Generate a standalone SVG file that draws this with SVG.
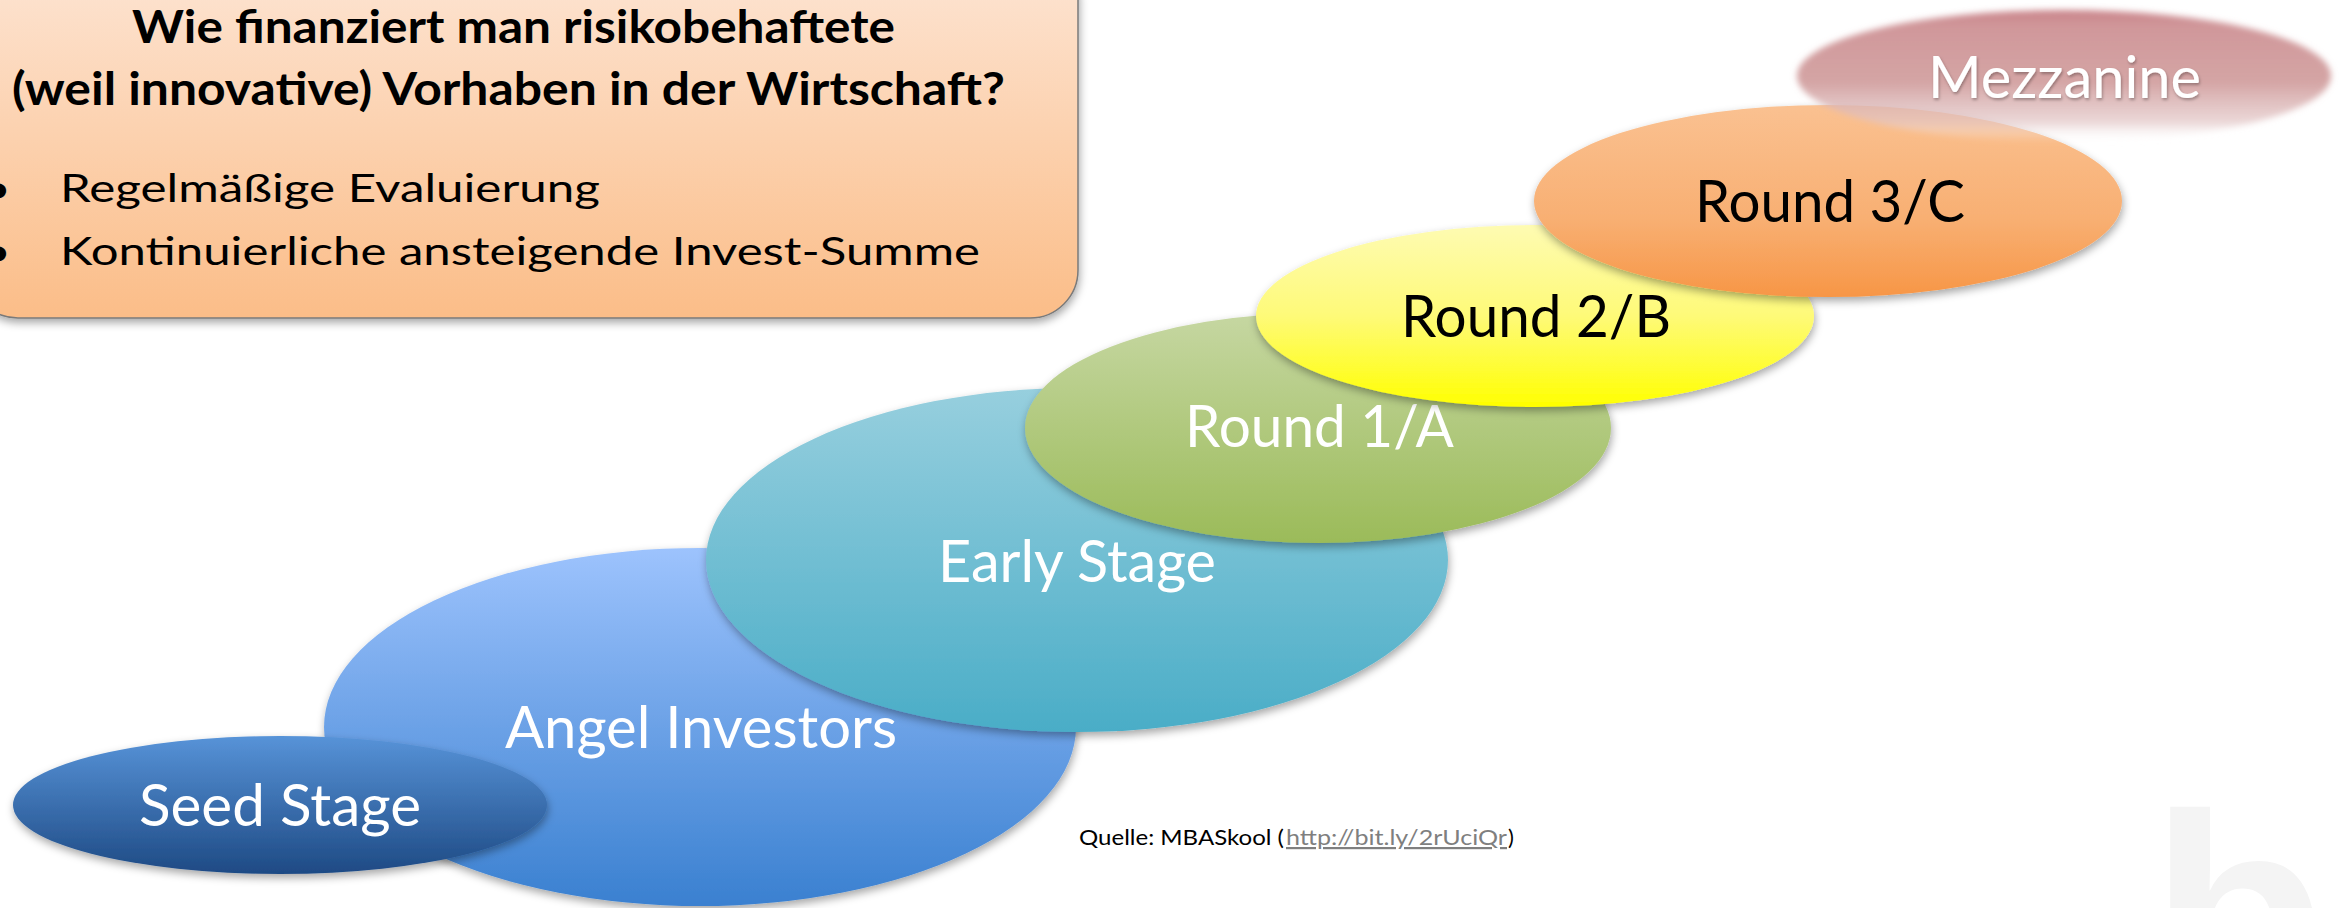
<svg xmlns="http://www.w3.org/2000/svg" width="2349" height="908" viewBox="0 0 2349 908">
<style>
.lbl{font-family:Lato,"Open Sans","Liberation Sans",sans-serif;font-size:59px;}
.w{fill:#ffffff;}
.k{fill:#000000;}
.ttl{font-family:Lato,"Open Sans","Liberation Sans",sans-serif;font-size:45px;font-weight:700;fill:#000;}
.bul{font-family:Lato,"Open Sans","Liberation Sans",sans-serif;font-size:38px;fill:#000;}
.src{font-family:Lato,"Open Sans","Liberation Sans",sans-serif;font-size:22px;fill:#000;}
</style>
<defs>
<filter id="sh" x="-10%" y="-10%" width="120%" height="130%">
<feDropShadow dx="1" dy="4" stdDeviation="4" flood-color="#000" flood-opacity="0.35"/>
</filter>
<filter id="blur" x="-10%" y="-20%" width="120%" height="140%">
<feGaussianBlur stdDeviation="3"/>
</filter>
<filter id="tsh" x="-5%" y="-20%" width="110%" height="140%">
<feDropShadow dx="1" dy="2" stdDeviation="1.5" flood-color="#000" flood-opacity="0.3"/>
</filter>
<linearGradient id="gBox" x1="0" y1="0" x2="0" y2="1">
<stop offset="0" stop-color="#fde6d6"/><stop offset="1" stop-color="#fbbd88"/>
</linearGradient>
<linearGradient id="gSeed" x1="0" y1="0" x2="0" y2="1">
<stop offset="0" stop-color="#5793d8"/><stop offset="1" stop-color="#1e4a84"/>
</linearGradient>
<linearGradient id="gAngel" x1="0" y1="0" x2="0" y2="1">
<stop offset="0" stop-color="#9dc3fd"/><stop offset="1" stop-color="#3a80d0"/>
</linearGradient>
<linearGradient id="gEarly" x1="0" y1="0" x2="0" y2="1">
<stop offset="0" stop-color="#97cfde"/><stop offset="1" stop-color="#4aadc7"/>
</linearGradient>
<linearGradient id="gR1" x1="0" y1="0" x2="0" y2="1">
<stop offset="0" stop-color="#c6d7a2"/><stop offset="1" stop-color="#9bbb59"/>
</linearGradient>
<linearGradient id="gR2" x1="0" y1="0" x2="0" y2="1">
<stop offset="0" stop-color="#fefbb2"/><stop offset="0.5" stop-color="#fefa78"/><stop offset="1" stop-color="#ffff00"/>
</linearGradient>
<linearGradient id="gR3" x1="0" y1="0" x2="0" y2="1">
<stop offset="0" stop-color="#fac191"/><stop offset="0.6" stop-color="#f8af72"/><stop offset="1" stop-color="#f79646"/>
</linearGradient>
<linearGradient id="gMez" x1="0" y1="0" x2="0" y2="1">
<stop offset="0" stop-color="#c98389"/><stop offset="0.12" stop-color="#d0979a"/><stop offset="0.55" stop-color="#d2a0a0" stop-opacity="0.95"/><stop offset="0.85" stop-color="#e2c6c6" stop-opacity="0.7"/><stop offset="1" stop-color="#ffffff" stop-opacity="0"/>
</linearGradient>
</defs>
<rect width="2349" height="908" fill="#ffffff"/>

<g id="watermark">
<text x="2150" y="1017" font-family="'Liberation Sans',sans-serif" font-weight="700" font-size="290" fill="#f4f4f4">b</text>
</g>

<g id="question-box">
<rect x="-30" y="-50" width="1108" height="368" rx="48" ry="48" fill="url(#gBox)" stroke="#7a7a7a" stroke-width="1.5" filter="url(#sh)"/>
<text class="ttl" x="132" y="43" textLength="763" lengthAdjust="spacingAndGlyphs">Wie finanziert man risikobehaftete</text>
<text class="ttl" x="12" y="105" textLength="993" lengthAdjust="spacingAndGlyphs">(weil innovative) Vorhaben in der Wirtschaft?</text>
<text class="bul" x="-12" y="202">•</text>
<text class="bul" x="-12" y="265">•</text>
<text class="bul" x="60" y="202" textLength="540" lengthAdjust="spacingAndGlyphs">Regelmäßige Evaluierung</text>
<text class="bul" x="60" y="265" textLength="920" lengthAdjust="spacingAndGlyphs">Kontinuierliche ansteigende Invest-Summe</text>
</g>

<g id="angel-investors">
<ellipse cx="700" cy="727" rx="376" ry="179" fill="url(#gAngel)" filter="url(#sh)"/>
<text class="lbl w" x="505" y="748" textLength="392" lengthAdjust="spacingAndGlyphs">Angel Investors</text>
</g>

<g id="seed-stage">
<ellipse cx="280" cy="805" rx="267" ry="69" fill="url(#gSeed)" filter="url(#sh)"/>
<text class="lbl w" x="139" y="826" textLength="282" lengthAdjust="spacingAndGlyphs">Seed Stage</text>
</g>

<g id="early-stage">
<ellipse cx="1077" cy="560" rx="371" ry="172" fill="url(#gEarly)" filter="url(#sh)"/>
<text class="lbl w" x="938" y="582" textLength="278" lengthAdjust="spacingAndGlyphs">Early Stage</text>
</g>

<g id="round-1a">
<ellipse cx="1318" cy="428" rx="293" ry="115" fill="url(#gR1)" filter="url(#sh)"/>
<text class="lbl w" x="1185" y="447" textLength="269" lengthAdjust="spacingAndGlyphs">Round 1/A</text>
</g>

<g id="round-2b">
<ellipse cx="1535" cy="316" rx="279" ry="91" fill="url(#gR2)" filter="url(#sh)"/>
<text class="lbl k" x="1401" y="337" textLength="270" lengthAdjust="spacingAndGlyphs">Round 2/B</text>
</g>

<g id="round-3c">
<ellipse cx="1828" cy="201" rx="294" ry="96" fill="url(#gR3)" filter="url(#sh)"/>
<text class="lbl k" x="1695" y="222" textLength="270" lengthAdjust="spacingAndGlyphs">Round 3/C</text>
</g>

<g id="mezzanine">
<ellipse cx="2064" cy="76" rx="267" ry="66" fill="url(#gMez)" filter="url(#blur)"/>
<text class="lbl w" x="1928" y="98" textLength="273" lengthAdjust="spacingAndGlyphs" filter="url(#tsh)">Mezzanine</text>
</g>

<g id="connectors"></g>

<g id="source">
<text class="src" x="1079" y="845" textLength="205" lengthAdjust="spacingAndGlyphs">Quelle: MBASkool (</text>
<text class="src" x="1286" y="845" textLength="221" lengthAdjust="spacingAndGlyphs" style="fill:#7f7f7f" text-decoration="underline">http://bit.ly/2rUciQr</text>
<text class="src" x="1508" y="845">)</text>
</g>
</svg>
